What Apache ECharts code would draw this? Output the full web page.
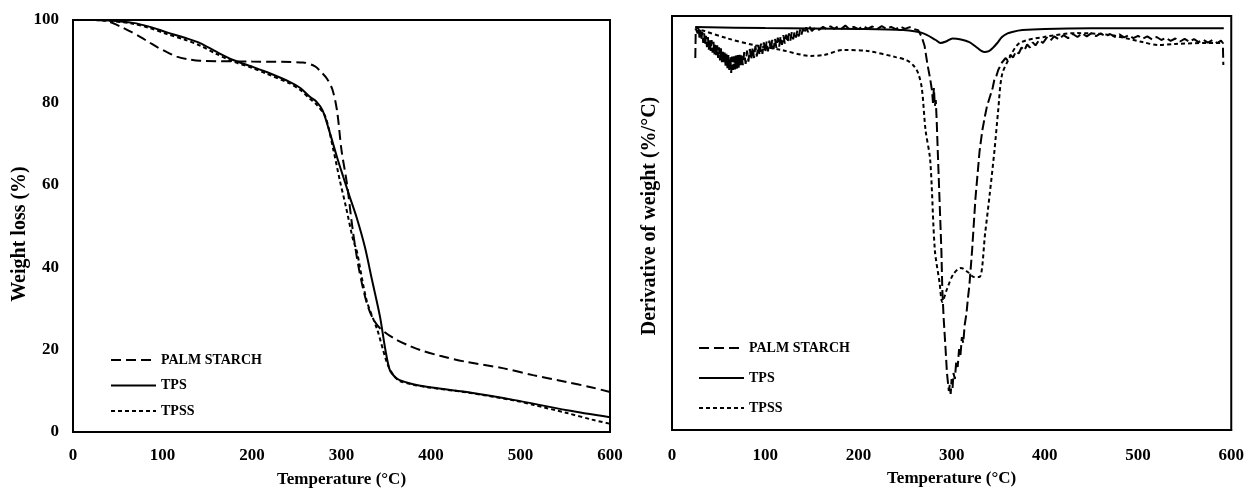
<!DOCTYPE html>
<html>
<head>
<meta charset="utf-8">
<script src="https://cdn.jsdelivr.net/npm/echarts@6/dist/echarts.min.js"></script>
<style>
html,body{margin:0;padding:0;background:#fff;}
#chart{width:1247px;height:496px;}
</style>
</head>
<body>
<div id="chart"></div>
<script>
// ---------- DATA ----------
const seriesNames = ['PALM STARCH', 'TPS', 'TPSS'];
const xTicks = [0, 100, 200, 300, 400, 500, 600];
const yTicksTGA = [0, 20, 40, 60, 80, 100];

// TGA: [temperature °C, weight %]
const tgaPalm = [[25,100],[35,99.9],[45,99.2],[55,98.2],[65,97.1],[75,95.9],[85,94.6],[95,93.3],[105,92.2],[116,91.1],[130,90.4],[142,90.1],[200,89.9],[257,89.7],[270,88.8],[278,87.2],[284,85.7],[290,83],[295,78],[300,68.4],[306,60.4],[313,48.3],[320,39],[328,31.5],[335,27.6],[343,25.2],[358,22.8],[375,21],[388,19.9],[410,18.5],[440,17],[480,15.5],[514,13.8],[550,12.2],[580,10.8],[600,9.7]];
const tgaTPS = [[25,100],[40,99.9],[67,99.3],[85,98.4],[105,97],[125,95.7],[142,94.4],[160,92.3],[179,90.3],[200,88.7],[216,87.4],[242,85],[254,83.5],[265,81.3],[272,80.2],[279,78],[287,72.6],[295,66.7],[302,61.9],[309,57.2],[317,52],[326,45],[334,37],[343,28],[349,20],[354,15],[360,13.3],[365,12.6],[380,11.6],[395,11],[440,9.7],[492,7.8],[552,5.3],[600,3.6]];
const tgaTPSS = [[25,100],[40,99.8],[67,99.1],[85,98.1],[105,96.6],[125,95.2],[142,93.8],[160,91.8],[179,89.9],[200,88.4],[216,87],[242,84.6],[254,83],[265,80.8],[272,79.5],[282,76.5],[291,68.4],[298,61.2],[305,54.6],[313,46.6],[317,44],[328,32],[340,24.8],[351,16.7],[358,13.8],[365,12.4],[380,11.5],[395,10.9],[440,9.6],[492,7.7],[514,6.6],[552,4.6],[580,3],[600,2]];

// DTG: [temperature °C, derivative of weight %/°C]
const dtgPalm = [[25,-0.1],[25.5,-0.002],[26.5,0.004],[27.5,-0.018],[28.5,0.002],[29.5,-0.032],[30.5,-0.006],[31.5,-0.04],[32.5,-0.012],[33.5,-0.05],[34.5,-0.018],[35.5,-0.058],[36.5,-0.026],[37.5,-0.064],[38.5,-0.03],[39.5,-0.072],[40.5,-0.036],[41.5,-0.076],[42.5,-0.04],[43.5,-0.082],[44.5,-0.046],[45.5,-0.088],[46.5,-0.05],[47.5,-0.094],[48.5,-0.058],[49.5,-0.1],[50.5,-0.064],[51.5,-0.108],[52.5,-0.068],[53.5,-0.114],[54.5,-0.074],[55.5,-0.12],[56.5,-0.08],[57.5,-0.128],[58.5,-0.086],[59.5,-0.134],[60.5,-0.09],[61.5,-0.145],[62.5,-0.094],[63.5,-0.15],[64.5,-0.095],[65.5,-0.14],[66.5,-0.094],[67.5,-0.138],[68.5,-0.092],[69.5,-0.136],[70.5,-0.09],[71.5,-0.132],[72.5,-0.088],[73.5,-0.13],[74.5,-0.086],[76,-0.124],[77.5,-0.08],[79,-0.12],[80.5,-0.075],[82,-0.112],[83.5,-0.07],[85,-0.106],[86.5,-0.064],[88,-0.1],[89.5,-0.06],[91,-0.095],[92.5,-0.056],[94,-0.09],[95.5,-0.052],[97,-0.086],[98.5,-0.048],[100,-0.082],[101.5,-0.045],[103,-0.078],[104.5,-0.042],[106,-0.074],[107.5,-0.04],[109,-0.07],[110.5,-0.036],[112,-0.066],[113.5,-0.032],[115,-0.062],[116.5,-0.028],[118,-0.056],[119.5,-0.024],[121,-0.052],[122.5,-0.022],[124,-0.048],[125.5,-0.018],[127,-0.042],[128.5,-0.014],[130,-0.038],[131.5,-0.012],[133,-0.032],[134.5,-0.008],[136,-0.028],[137.5,-0.005],[139,-0.022],[140.5,-0.002],[142,-0.018],[144,0.002],[146,-0.014],[148,0.004],[150,-0.01],[154,0.002],[158,-0.006],[162,0.004],[166,-0.004],[170,0.006],[174,-0.003],[178,0.005],[182,-0.002],[186,0.008],[190,-0.003],[195,0.004],[200,-0.004],[205,0.006],[210,-0.002],[215,0.005],[220,-0.004],[225,0.006],[230,-0.003],[235,0.004],[240,-0.004],[245,0.005],[250,-0.003],[255,0.003],[260,-0.004],[264,-0.007],[268,-0.03],[271,-0.06],[274,-0.12],[277,-0.17],[279,-0.21],[280,-0.25],[281,-0.2],[282,-0.26],[283,-0.24],[284,-0.31],[285,-0.4],[287,-0.57],[289,-0.74],[290,-0.87],[291.5,-0.97],[293.5,-1.07],[295,-1.15],[297,-1.21],[298,-1.19],[299,-1.22],[300,-1.17],[301,-1.2],[302,-1.15],[303.5,-1.17],[305,-1.11],[306.5,-1.13],[308,-1.07],[309.5,-1.09],[311,-1.03],[312.5,-1.05],[314,-0.99],[316,-0.95],[317.5,-0.9],[319,-0.86],[322,-0.74],[325.5,-0.57],[330,-0.41],[333,-0.34],[336,-0.29],[338,-0.26],[340,-0.24],[342,-0.22],[344,-0.2],[346,-0.17],[348,-0.16],[350,-0.14],[352,-0.14],[354,-0.115],[356,-0.12],[358,-0.1],[360,-0.108],[363,-0.09],[366,-0.098],[369,-0.078],[372,-0.085],[375,-0.065],[378,-0.075],[381,-0.055],[384,-0.065],[387,-0.048],[390,-0.058],[394,-0.04],[398,-0.05],[402,-0.032],[406,-0.042],[410,-0.028],[415,-0.038],[420,-0.024],[425,-0.034],[430,-0.02],[435,-0.03],[440,-0.018],[445,-0.028],[450,-0.017],[455,-0.027],[460,-0.018],[465,-0.028],[470,-0.02],[475,-0.03],[480,-0.021],[485,-0.031],[490,-0.024],[495,-0.034],[500,-0.026],[505,-0.036],[510,-0.028],[515,-0.038],[520,-0.03],[525,-0.04],[530,-0.033],[535,-0.043],[540,-0.035],[545,-0.045],[550,-0.036],[555,-0.046],[560,-0.037],[565,-0.047],[570,-0.039],[575,-0.049],[580,-0.04],[585,-0.05],[589,-0.042],[591,-0.05],[591.5,-0.123]];
const dtgTPS = [[25,0.003],[100,0.0],[200,-0.003],[248,-0.007],[269,-0.017],[283,-0.04],[288,-0.05],[294,-0.045],[301,-0.035],[310,-0.038],[319,-0.047],[327,-0.065],[335,-0.08],[340,-0.077],[344,-0.067],[349,-0.05],[354,-0.03],[360,-0.018],[365,-0.013],[376,-0.007],[400,-0.003],[450,-0.001],[592,-0.001]];
const dtgTPSS = [[25,0.003],[32,-0.007],[60,-0.035],[88,-0.057],[117,-0.073],[149,-0.093],[163,-0.09],[184,-0.073],[210,-0.077],[240,-0.097],[252,-0.108],[259,-0.125],[264,-0.15],[268,-0.2],[272,-0.34],[277,-0.44],[282,-0.74],[287,-0.847],[290,-0.913],[295,-0.87],[302,-0.82],[310,-0.8],[318,-0.815],[324,-0.83],[330,-0.83],[336,-0.683],[341,-0.55],[346,-0.407],[350,-0.273],[354,-0.157],[362,-0.1],[373,-0.05],[399,-0.03],[434,-0.017],[469,-0.023],[505,-0.047],[522,-0.057],[540,-0.053],[576,-0.05],[590,-0.05]];

// ---------- STYLE ----------
const FONT = "'Liberation Serif','Times New Roman',serif";
const dashPalm = [10, 5];
const dashPalmDTG = [10, 4];
const dashTPSS = [4, 3];

function xAxis(gridIndex, margin, nameGap) {
  return {
    gridIndex, type: 'value', min: 0, max: 600, interval: 100,
    name: 'Temperature (\u00B0C)', nameLocation: 'middle', nameGap,
    nameTextStyle: {fontFamily: FONT, fontWeight: 'bold', fontSize: 17, color: '#000'},
    axisLine: {show: true, onZero: false, lineStyle: {color: '#000', width: 2}},
    axisTick: {show: false},
    splitLine: {show: false},
    axisLabel: {fontFamily: FONT, fontWeight: 'bold', fontSize: 17, color: '#000', margin,
      formatter: v => xTicks.includes(v) ? String(v) : ''}
  };
}

const lineBase = {type: 'line', symbol: 'none', showSymbol: false, clip: true, z: 3};
const legendBase = {orient: 'vertical', itemWidth: 45, itemHeight: 14, padding: 0,
  data: seriesNames, selectedMode: false,
  itemStyle: {color: 'rgba(0,0,0,0)', borderColor: 'rgba(0,0,0,0)', borderWidth: 0},
  textStyle: {fontFamily: FONT, fontWeight: 'bold', fontSize: 14, color: '#000'}};

const option = {
  animation: false,
  backgroundColor: '#fff',
  grid: [
    {left: 73, top: 20, width: 537, height: 412, show: true, borderColor: '#000', borderWidth: 2, backgroundColor: 'transparent'},
    {left: 672, top: 16, width: 562, height: 414, show: true, borderColor: '#000', borderWidth: 2, backgroundColor: 'transparent'}
  ],
  xAxis: [xAxis(0, 15, 39), xAxis(1, 17, 40)],
  yAxis: [
    {gridIndex: 0, type: 'value', min: 0, max: 100, interval: 20,
      name: 'Weight loss (%)', nameLocation: 'middle', nameGap: 41,
      nameTextStyle: {fontFamily: FONT, fontWeight: 'bold', fontSize: 20, color: '#000', padding: [0, 16, 0, 0]},
      axisLine: {show: true, onZero: false, lineStyle: {color: '#000', width: 2}},
      axisTick: {show: false}, splitLine: {show: false},
      axisLabel: {fontFamily: FONT, fontWeight: 'bold', fontSize: 17, color: '#000', margin: 14,
        formatter: v => yTicksTGA.includes(v) ? String(v) : ''}},
    {gridIndex: 1, type: 'value', min: -1.34, max: 0.04,
      name: 'Derivative of weight (%/\u00B0C)', nameLocation: 'middle', nameGap: 12,
      nameTextStyle: {fontFamily: FONT, fontWeight: 'bold', fontSize: 20, color: '#000', padding: [0, 0, 0, 14]},
      axisLine: {show: true, onZero: false, lineStyle: {color: '#000', width: 2}},
      axisTick: {show: false}, splitLine: {show: false}, axisLabel: {show: false}}
  ],
  legend: [
    Object.assign({}, legendBase, {left: 110, top: 353, itemGap: 11.5}),
    Object.assign({}, legendBase, {left: 698, top: 341, itemGap: 16})
  ],
  series: [
    Object.assign({}, lineBase, {name: seriesNames[0], xAxisIndex: 0, yAxisIndex: 0, data: tgaPalm, smooth: 0.3,
      lineStyle: {color: '#000', width: 2, type: dashPalm}, itemStyle: {color: '#000'}}),
    Object.assign({}, lineBase, {name: seriesNames[1], xAxisIndex: 0, yAxisIndex: 0, data: tgaTPS, smooth: 0.3,
      lineStyle: {color: '#000', width: 2, type: 'solid'}, itemStyle: {color: '#000'}}),
    Object.assign({}, lineBase, {name: seriesNames[2], xAxisIndex: 0, yAxisIndex: 0, data: tgaTPSS, smooth: 0.3,
      lineStyle: {color: '#000', width: 2, type: dashTPSS}, itemStyle: {color: '#000'}}),
    Object.assign({}, lineBase, {name: seriesNames[0], xAxisIndex: 1, yAxisIndex: 1, data: dtgPalm,
      lineStyle: {color: '#000', width: 2, type: dashPalmDTG}, itemStyle: {color: '#000'}}),
    Object.assign({}, lineBase, {name: seriesNames[1], xAxisIndex: 1, yAxisIndex: 1, data: dtgTPS, smooth: 0.3,
      lineStyle: {color: '#000', width: 2, type: 'solid'}, itemStyle: {color: '#000'}}),
    Object.assign({}, lineBase, {name: seriesNames[2], xAxisIndex: 1, yAxisIndex: 1, data: dtgTPSS, smooth: 0.3,
      lineStyle: {color: '#000', width: 2, type: dashTPSS}, itemStyle: {color: '#000'}})
  ]
};

const chart = echarts.init(document.getElementById('chart'), null, {renderer: 'canvas'});
chart.setOption(option);
</script>
</body>
</html>
